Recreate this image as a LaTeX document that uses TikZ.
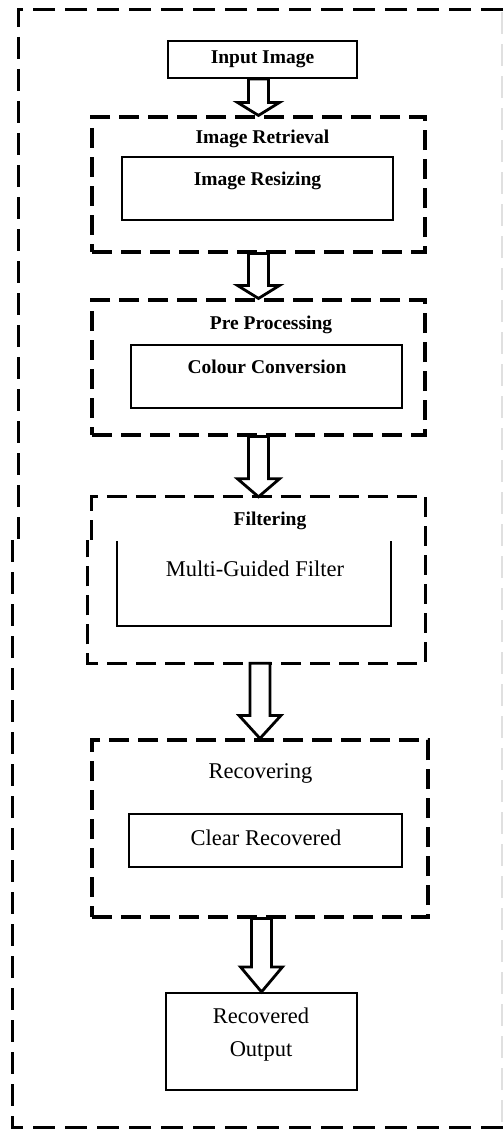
\documentclass[tikz,border=0pt]{standalone}
\usepackage{fontspec}
\setmainfont{Liberation Serif}
\usetikzlibrary{calc}
\tikzset{
  sbox/.style={draw, line width=2.2pt, inner sep=0pt},
  dbox/.style={draw, line width=3.1pt, dash pattern=on 20pt off 9pt, inner sep=0pt},
  dline/.style={line width=3.1pt, dash pattern=on 20pt off 9pt},
  oline/.style={line width=3pt, dash pattern=on 22pt off 10pt},
  sline/.style={line width=2.2pt},
  barrow/.style={draw, fill=white, line width=2.8pt, line join=miter},
  smalllbl/.style={font=\bfseries\fontsize{19.5}{23}\selectfont, inner sep=0pt, anchor=base},
  biglbl/.style={font=\fontsize{22.5}{27}\selectfont, inner sep=0pt, anchor=base},
}
\newcommand{\blockarr}[3]{%
  \draw[barrow] let \p1=(#1.south), \p2=(#2.north) in
    (\x2-10pt,\y1) -- (\x2-10pt,\y2+#3) -- (\x2-21pt,\y2+#3) -- (\x2,\y2)
    -- (\x2+21pt,\y2+#3) -- (\x2+10pt,\y2+#3) -- (\x2+10pt,\y1) -- cycle;}
\begin{document}
\begin{tikzpicture}[x=1pt,y=-1pt]
\useasboundingbox (0,0) rectangle (503,1129);
% outer frame
\draw[oline] (503,10) -- (18,10) -- (18,540);
\draw[oline] (12,540) -- (12,1127) -- (503,1127);
\draw[oline, draw=black!12, line width=1.2pt] (502,12) -- (502,1125);

% input
\node[sbox, minimum width=189pt, minimum height=37pt] (in) at (262.5,59.5) {};
\node[smalllbl] (inT) at (262.5,64) {Input Image};

% image retrieval
\node[dbox, minimum width=333pt, minimum height=135pt] (ret) at (258.5,184.5) {};
\node[smalllbl] (retT) at (262.5,143) {Image Retrieval};
\node[sbox, minimum width=271pt, minimum height=63pt] (rsz) at (257.5,188.5) {};
\node[smalllbl] (rszT) at (257.5,185) {Image Resizing};

% pre processing
\node[dbox, minimum width=333pt, minimum height=135pt] (pre) at (258.5,367.5) {};
\node[smalllbl] (preT) at (271,329) {Pre Processing};
\node[sbox, minimum width=271pt, minimum height=63pt] (cc) at (266.5,376.5) {};
\node[smalllbl] (ccT) at (267,373) {Colour Conversion};

% filtering
\node[inner sep=0pt, minimum width=333pt, minimum height=166pt] (fil) at (258.5,580) {};
\draw[dline] ([yshift=-43pt]fil.north west) -- (fil.north west) -- (fil.north east)
  -- (fil.south east) -- ([xshift=-4pt]fil.south west) -- ([xshift=-4pt,yshift=-43pt]fil.north west);
\node[smalllbl] (filT) at (270,525) {Filtering};
\node[inner sep=0pt, minimum width=274pt, minimum height=85pt] (mgf) at (254,583.5) {};
\draw[sline] (mgf.north west) -- (mgf.south west) -- (mgf.south east) -- (mgf.north east);
\node[biglbl] (mgfT) at (255,576) {Multi-Guided Filter};

% recovering
\node[dbox, minimum width=336pt, minimum height=177pt] (rec) at (260,828.5) {};
\node[biglbl] (recT) at (260.5,778) {Recovering};
\node[sbox, minimum width=273pt, minimum height=53pt] (clr) at (265.5,840.5) {};
\node[biglbl] (clrT) at (266,845) {Clear Recovered};

% output
\node[sbox, minimum width=191pt, minimum height=97pt] (out) at (261.5,1041.5) {};
\node[biglbl] (outT1) at (261,1023) {Recovered};
\node[biglbl] (outT2) at (261,1056) {Output};

% arrows
\blockarr{in}{ret}{13pt}
\blockarr{ret}{pre}{13pt}
\blockarr{pre}{fil}{18pt}
\blockarr{fil}{rec}{23pt}
\blockarr{rec}{out}{25pt}
\end{tikzpicture}
\end{document}
